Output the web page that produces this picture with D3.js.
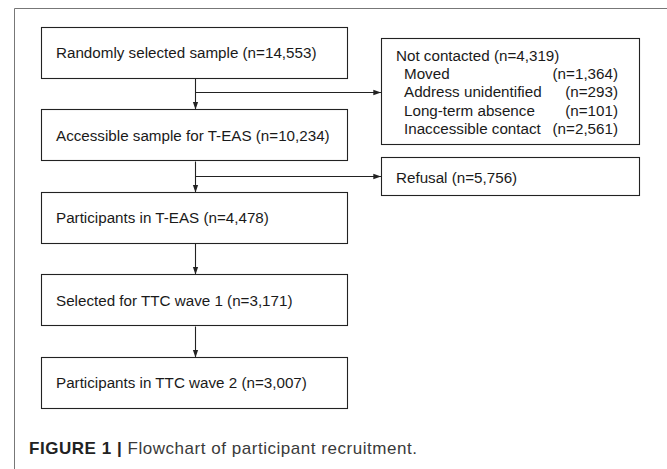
<!DOCTYPE html>
<html><head><meta charset="utf-8">
<script src="https://cdn.jsdelivr.net/npm/d3@7"></script>
<style>html,body{margin:0;padding:0;background:#fff;}svg{display:block;}</style>
</head><body>
<script>
// ---- data ----
const steps = ["Randomly selected sample", "Accessible sample for T-EAS", "Participants in T-EAS", "Selected for TTC wave 1", "Participants in TTC wave 2"];
const stepN = ["14,553", "10,234", "4,478", "3,171", "3,007"];
const notContactedTotal = "4,319";
const notContactedReasons = ["Moved", "Address unidentified", "Long-term absence", "Inaccessible contact"];
const notContactedN = ["1,364", "293", "101", "2,561"];
const refusalN = "5,756";
const captionBold = "FIGURE 1 |";
const captionText = " Flowchart of participant recruitment.";

const W = 667, H = 469;
const svg = d3.select("body").append("svg").attr("width", W).attr("height", H);
const font = "'Liberation Sans', Arial, sans-serif";
const txt = "#1a1a1a", lineC = "#222";
const fs = 15.2;

// frame
svg.append("path").attr("d", `M14.5,${H+2} L14.5,8.5 L${W+2},8.5`).attr("fill","none").attr("stroke","#777").attr("stroke-width",1);

const y = d3.scaleBand().domain(d3.range(steps.length)).range([27, 408]).paddingInner(0.38);
const x0 = 41, x1 = 347, cx = 195;

svg.append("defs").append("marker").attr("id","ah").attr("viewBox","0 0 10 10")
  .attr("refX",10).attr("refY",5).attr("markerWidth",7).attr("markerHeight",7).attr("orient","auto-start-reverse")
  .append("path").attr("d","M0,1.5 L10,5 L0,8.5 Z").attr("fill", lineC);

const g = svg.append("g");
steps.forEach((s,i)=>{
  g.append("rect").attr("x",x0+0.5).attr("y",Math.round(y(i))+0.5).attr("width",x1-x0).attr("height",Math.round(y.bandwidth()))
   .attr("fill","none").attr("stroke",lineC).attr("stroke-width",1.1);
  g.append("text").attr("x",56).attr("y",y(i)+y.bandwidth()/2+5.8).attr("font-family",font).attr("font-size",fs).attr("fill",txt)
   .text(`${s} (n=${stepN[i]})`);
  if (i < steps.length-1) {
    g.append("line").attr("x1",cx+0.5).attr("x2",cx+0.5).attr("y1",Math.round(y(i)+y.bandwidth())+0.5).attr("y2",Math.round(y(i+1))+0.5)
     .attr("stroke",lineC).attr("stroke-width",1.1).attr("marker-end","url(#ah)");
  }
});

// side boxes
const rx0 = 381, rx1 = 639;
const branchY = [92, 176];
branchY.forEach(by=>{
  g.append("line").attr("x1",cx+0.5).attr("x2",rx0).attr("y1",by+0.5).attr("y2",by+0.5)
   .attr("stroke",lineC).attr("stroke-width",1.1).attr("marker-end","url(#ah)");
});
g.append("rect").attr("x",rx0+0.5).attr("y",38.5).attr("width",rx1-rx0).attr("height",106).attr("fill","none").attr("stroke",lineC).attr("stroke-width",1.1);
g.append("rect").attr("x",rx0+0.5).attr("y",157.5).attr("width",rx1-rx0).attr("height",38).attr("fill","none").attr("stroke",lineC).attr("stroke-width",1.1);

const lineY = d3.scaleLinear().domain([0,4]).range([60.5, 134]);
g.append("text").attr("x",396).attr("y",lineY(0)).attr("font-family",font).attr("font-size",fs).attr("fill",txt)
  .text(`Not contacted (n=${notContactedTotal})`);
notContactedReasons.forEach((r,i)=>{
  g.append("text").attr("x",404).attr("y",lineY(i+1)).attr("font-family",font).attr("font-size",fs).attr("fill",txt).text(r);
  g.append("text").attr("x",618).attr("y",lineY(i+1)).attr("text-anchor","end").attr("font-family",font).attr("font-size",fs).attr("fill",txt).text(`(n=${notContactedN[i]})`);
});
g.append("text").attr("x",396).attr("y",182.5).attr("font-family",font).attr("font-size",fs).attr("fill",txt).text(`Refusal (n=${refusalN})`);

// caption
const cap = svg.append("text").attr("x",29).attr("y",454).attr("font-family",font).attr("font-size",17).attr("fill","#222");
cap.append("tspan").attr("font-weight","bold").text(captionBold);
cap.append("tspan").attr("fill","#3a3a3a").text(captionText);
const len = cap.node().getComputedTextLength();
const nChars = (captionBold + captionText).length;
cap.attr("letter-spacing", Math.max(0, ((417 - 29) - len) / (nChars - 1)));
</script>
</body></html>
